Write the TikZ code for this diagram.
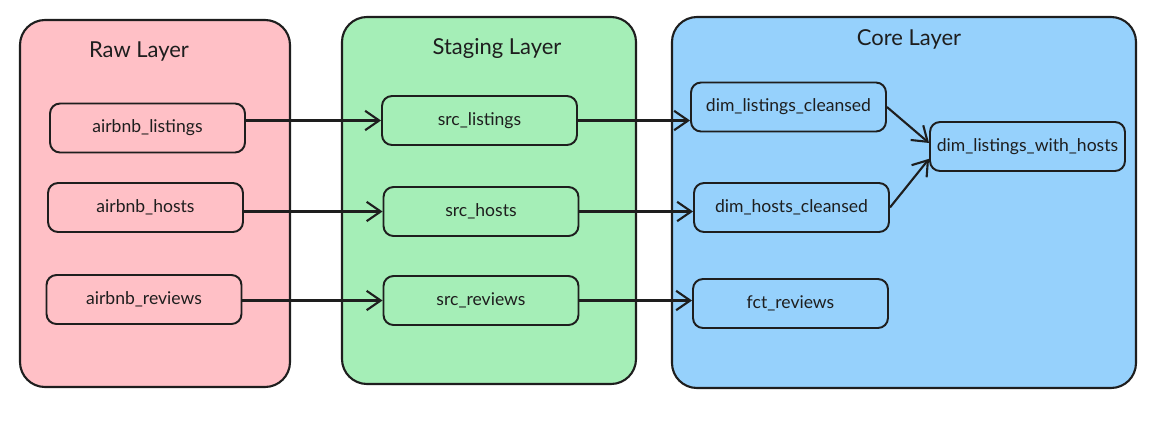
\documentclass[tikz,border=0pt]{standalone}
\usepackage{fontspec}
\setmainfont{Lato}
\usetikzlibrary{arrows.meta}
\definecolor{rawfill}{HTML}{FFC0C6}
\definecolor{stgfill}{HTML}{A5EEB7}
\definecolor{corefill}{HTML}{96D1FC}
\definecolor{ink}{HTML}{1E1E1E}

\begin{document}
\begin{tikzpicture}[x=0.02cm, y=-0.02cm,
		layer/.style={draw=ink, line width=1.2pt, rounded corners=0.5cm},
		title/.style={text=ink, font=\fontsize{12.5}{15}\selectfont},
		tbl/.style={draw=ink, line width=1.1pt, rounded corners=0.2cm, minimum width=3.9cm, minimum height=0.98cm, inner sep=1pt, text=ink, font=\fontsize{10}{12}\selectfont},
		flow/.style={draw=ink, line width=1.2pt, -{Straight Barb[length=8pt,width=11pt]}}]
		\useasboundingbox (0,0) rectangle (1154,427);
		\draw[layer, fill=rawfill] (20,20) rectangle (290,387);
		\draw[layer, fill=stgfill] (342,17) rectangle (636,384);
		\draw[layer, fill=corefill] (672,17) rectangle (1136,388);
		\node[title] (traw) at (139,52) {Raw Layer};
		\node[title] (tstg) at (497,48) {Staging Layer};
		\node[title] (tcore) at (909,39) {Core Layer};

		\node[tbl] (rl) at (147.5,128) {airbnb\_listings};
		\node[tbl] (rh) at (145.5,207.5) {airbnb\_hosts};
		\node[tbl] (rr) at (144,299.5) {airbnb\_reviews};

		\node[tbl] (sl) at (479.5,120.5) {src\_listings};
		\node[tbl] (sh) at (481,211.5) {src\_hosts};
		\node[tbl] (sr) at (481,300.5) {src\_reviews};

		\node[tbl] (cl) at (788.5,107) {dim\_listings\_cleansed};
		\node[tbl] (ch) at (791.5,207.5) {dim\_hosts\_cleansed};
		\node[tbl] (cf) at (790.5,303.5) {fct\_reviews};
		\node[tbl] (cw) at (1027.5,146.5) {dim\_listings\_with\_hosts};

		\foreach \r/\s/\c in {rl/sl/cl, rh/sh/ch, rr/sr/cf}{
			\draw[flow] (\r.east |- \s.west) -- (\s.west);
			\draw[flow] (\s.east) -- (\s.east -| \c.west);
		}
		\draw[flow] (cl.east) -- ([yshift=2pt]cw.west);
		\draw[flow] (ch.east) -- ([yshift=-7pt]cw.west);
	\end{tikzpicture}
\end{document}
